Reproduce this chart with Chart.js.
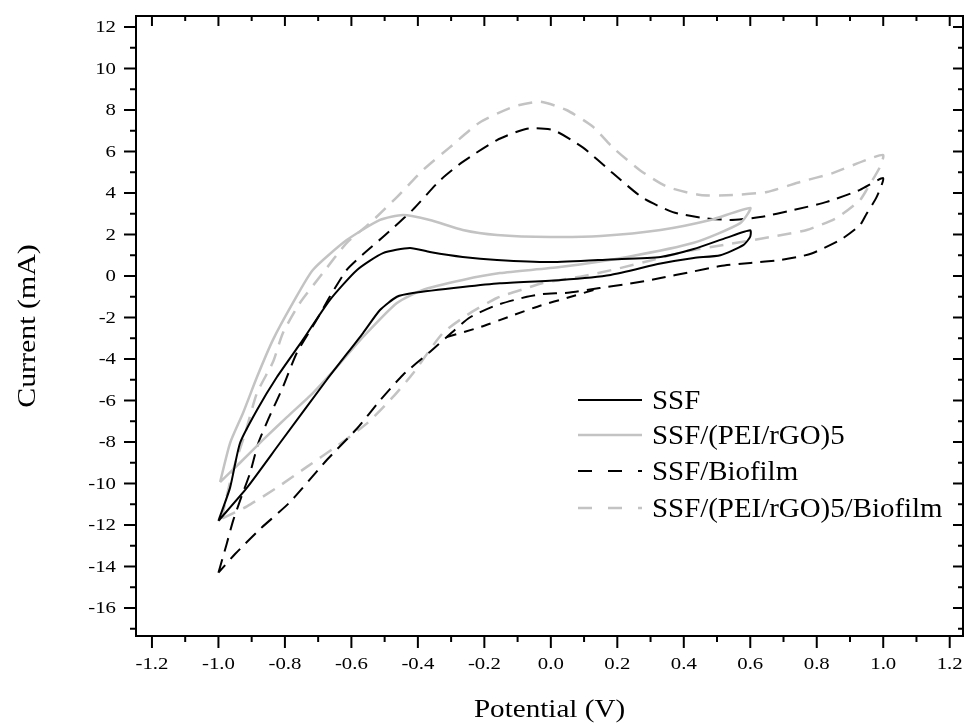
<!DOCTYPE html>
<html>
<head>
<meta charset="utf-8">
<title>Cyclic voltammograms</title>
<script src="https://cdn.jsdelivr.net/npm/chart.js@4.4.1/dist/chart.umd.min.js"></script>
<style>
    html, body { margin: 0; padding: 0; background: #fff; }
    #wrap { width: 965px; height: 724px; position: relative; }
</style>
</head>
<body>
<div id="wrap"><canvas id="cv-chart"></canvas></div>
<script>
// Axis ticks
var xTicks = [-1.2, -1.0, -0.8, -0.6, -0.4, -0.2, 0.0, 0.2, 0.4, 0.6, 0.8, 1.0, 1.2];
var yTicks = [-16, -14, -12, -10, -8, -6, -4, -2, 0, 2, 4, 6, 8, 10, 12];

var seriesNames = ['SSF', 'SSF/(PEI/rGO)5', 'SSF/Biofilm', 'SSF/(PEI/rGO)5/Biofilm'];

// SSF (closed loop, -1.0 .. 0.6 V)
var ssfPotential = [-1.0, -0.965, -0.935, -0.884, -0.824, -0.746, -0.665, -0.583, -0.505, -0.424, -0.364, -0.265, -0.162, 0.0, 0.18, 0.33, 0.43, 0.53, 0.6,
    0.6, 0.58, 0.51, 0.43, 0.33, 0.18, 0.03, -0.153, -0.265, -0.415, -0.463, -0.514, -0.565, -0.674, -0.815, -0.914, -1.0];
var ssfCurrent = [-11.8, -10.2, -8.05, -6.46, -4.87, -3.08, -1.16, 0.29, 1.1, 1.35, 1.16, 0.92, 0.77, 0.67, 0.8, 0.92, 1.3, 1.85, 2.2,
    1.9, 1.5, 1.0, 0.87, 0.6, 0.05, -0.19, -0.35, -0.53, -0.82, -1.0, -1.64, -2.75, -5.0, -8.05, -10.2, -11.8];

// SSF/(PEI/rGO)5
var rgoPotential = [-0.995, -0.965, -0.926, -0.884, -0.836, -0.776, -0.716, -0.614, -0.514, -0.445, -0.364, -0.265, -0.162, 0.0, 0.15, 0.33, 0.48, 0.6,
    0.57, 0.43, 0.23, 0.027, -0.153, -0.265, -0.385, -0.463, -0.565, -0.644, -0.716, -0.794, -0.866, -0.935, -0.995];
var rgoCurrent = [-9.93, -8.05, -6.6, -4.87, -3.08, -1.3, 0.29, 1.73, 2.7, 2.94, 2.7, 2.22, 1.98, 1.88, 1.93, 2.22, 2.7, 3.28,
    2.55, 1.6, 0.92, 0.43, 0.14, -0.19, -0.67, -1.3, -2.94, -4.39, -5.64, -6.8, -7.9, -9.0, -9.93];

// SSF/Biofilm (closed loop, -1.0 .. 1.0 V)
var bioPotential = [-1.0, -0.975, -0.956, -0.93, -0.905, -0.88, -0.85, -0.806, -0.764, -0.704, -0.665, -0.614, -0.565, -0.5, -0.415, -0.334, -0.265, -0.162, -0.072, 0.006,
    0.096, 0.186, 0.277, 0.367, 0.457, 0.54, 0.63, 0.73, 0.83, 0.93, 1.0,
    0.98, 0.95, 0.93, 0.87, 0.78, 0.69, 0.6, 0.51, 0.42, 0.33, 0.23, 0.147, 0.057, -0.024, -0.072, -0.162, -0.244, -0.313,
    -0.364, -0.445, -0.514, -0.583, -0.674, -0.785, -0.875, -0.95, -1.0];
var bioCurrent = [-14.3, -12.9, -11.8, -10.6, -9.5, -8.05, -6.9, -5.35, -3.7, -2.1, -1.0, 0.3, 1.05, 1.95, 3.2, 4.6, 5.5, 6.55, 7.1, 7.04,
    6.2, 4.96, 3.76, 3.08, 2.8, 2.7, 2.84, 3.18, 3.57, 4.15, 4.72,
    3.8, 3.0, 2.45, 1.73, 1.06, 0.77, 0.63, 0.48, 0.19, -0.1, -0.39, -0.58, -0.8, -0.87, -1.0, -1.4, -2.0, -2.94,
    -3.66, -4.77, -6.0, -7.35, -8.87, -10.9, -12.2, -13.4, -14.3];

// SSF/Biofilm, short extra trace under the cathodic branch
var bioExtraPotential = [-0.313, -0.21, -0.12, -0.03, 0.05, 0.14];
var bioExtraCurrent = [-2.94, -2.45, -1.93, -1.42, -1.05, -0.62];

// SSF/(PEI/rGO)5/Biofilm
var rgoBioPotential = [-0.99, -0.975, -0.955, -0.92, -0.884, -0.836, -0.806, -0.755, -0.686, -0.614, -0.544, -0.463, -0.385, -0.304, -0.214, -0.114, -0.033,
    0.047, 0.126, 0.186, 0.268, 0.35, 0.45, 0.547, 0.65, 0.75, 0.848, 0.95, 1.0,
    0.99, 0.95, 0.93, 0.86, 0.77, 0.68, 0.52, 0.41, 0.3, 0.2, 0.1, -0.024, -0.072, -0.162, -0.244, -0.325,
    -0.415, -0.475, -0.553, -0.644, -0.734, -0.824, -0.914, -0.99];
var rgoBioCurrent = [-11.7, -10.6, -9.3, -7.6, -5.64, -4.15, -2.75, -1.3, 0.14, 1.6, 2.55, 3.8, 5.1, 6.2, 7.4, 8.15, 8.4,
    8.0, 7.2, 6.2, 5.1, 4.3, 3.9, 3.9, 4.05, 4.53, 4.96, 5.6, 5.83,
    5.25, 4.15, 3.66, 2.8, 2.22, 1.93, 1.5, 1.2, 0.75, 0.35, 0.0, -0.34, -0.58, -1.06, -1.8, -2.75,
    -4.7, -5.83, -7.1, -8.2, -9.2, -10.2, -11.1, -11.7];

var FONT = "'Liberation Serif', 'Times New Roman', serif";
var GREY = '#c3c3c3';

function toPoints(xs, ys) {
    return xs.map(function(v, i) { return {x: v, y: ys[i]}; });
}

function lineSet(label, xs, ys, color, width, dash) {
    return {
        label: label,
        data: toPoints(xs, ys),
        showLine: true,
        borderColor: color,
        backgroundColor: color,
        borderWidth: width,
        borderDash: dash,
        pointRadius: 0,
        tension: 0.2,
        fill: false
    };
}

// The original's lettering is a little wider than the serif font, so stretch it
function wideText(ctx, text, x, y, sx, align, angle) {
    ctx.save();
    ctx.translate(x, y);
    if (angle) ctx.rotate(angle);
    ctx.scale(sx, 1);
    ctx.textAlign = align;
    ctx.fillText(text, 0, 0);
    ctx.restore();
}

// Frame with major/minor ticks on all four sides, plus tick labels and titles
var framePlugin = {
    id: 'frame',
    afterDatasetsDraw: function(chart) {
        var ctx = chart.ctx;
        var a = chart.chartArea;
        var xs = chart.scales.x;
        var ys = chart.scales.y;

        ctx.save();
        ctx.strokeStyle = '#000';
        ctx.lineWidth = 2;
        ctx.strokeRect(a.left, a.top, a.right - a.left, a.bottom - a.top);

        function seg(x1, y1, x2, y2) {
            ctx.beginPath();
            ctx.moveTo(x1, y1);
            ctx.lineTo(x2, y2);
            ctx.stroke();
        }

        ctx.fillStyle = '#000';
        ctx.textBaseline = 'middle';
        ctx.font = '16px ' + FONT;

        xTicks.forEach(function(v, i) {
            var p = xs.getPixelForValue(v);
            seg(p, a.bottom, p, a.bottom + 12);
            seg(p, a.top, p, a.top + 10);
            if (i < xTicks.length - 1) {
                var m = xs.getPixelForValue((v + xTicks[i + 1]) / 2);
                seg(m, a.bottom, m, a.bottom + 6);
                seg(m, a.top, m, a.top + 5);
            }
            wideText(ctx, v.toFixed(1), p, a.bottom + 29, 1.3, 'center');
        });

        yTicks.forEach(function(v) {
            var p = ys.getPixelForValue(v);
            seg(a.left - 12, p, a.left, p);
            seg(a.right - 10, p, a.right, p);
            var m = ys.getPixelForValue(v - 1);
            seg(a.left - 6, m, a.left, m);
            seg(a.right - 5, m, a.right, m);
            wideText(ctx, String(v), a.left - 20, p + 1, 1.3, 'right');
        });

        ctx.font = '26px ' + FONT;
        wideText(ctx, 'Potential (V)', (a.left + a.right) / 2, 710, 1.12, 'center');
        wideText(ctx, 'Current (mA)', 28, (a.top + a.bottom) / 2, 1.15, 'center', -Math.PI / 2);
        ctx.restore();
    }
};

// Legend drawn inside the plot area
var legendPlugin = {
    id: 'innerLegend',
    afterDraw: function(chart) {
        var ctx = chart.ctx;
        var rows = [400, 435, 471, 508];
        ctx.save();
        ctx.font = '27px ' + FONT;
        ctx.textBaseline = 'middle';
        ctx.fillStyle = '#000';
        seriesNames.forEach(function(name, i) {
            var ds = chart.data.datasets[i];
            ctx.strokeStyle = ds.borderColor;
            ctx.lineWidth = ds.borderWidth;
            ctx.setLineDash(ds.borderDash.length ? [14, 16] : []);
            ctx.beginPath();
            ctx.moveTo(578, rows[i]);
            ctx.lineTo(642, rows[i]);
            ctx.stroke();
            ctx.setLineDash([]);
            wideText(ctx, name, 652, rows[i] + 2, 1.07, 'left');
        });
        ctx.restore();
    }
};

var ctx = document.getElementById('cv-chart').getContext('2d');

new Chart(ctx, {
    type: 'scatter',
    data: {
        datasets: [
            lineSet(seriesNames[0], ssfPotential, ssfCurrent, '#000', 2, []),
            lineSet(seriesNames[1], rgoPotential, rgoCurrent, GREY, 2.5, []),
            lineSet(seriesNames[2], bioPotential, bioCurrent, '#000', 2, [14, 8]),
            lineSet(seriesNames[3], rgoBioPotential, rgoBioCurrent, GREY, 2.5, [14, 9]),
            lineSet('', bioExtraPotential, bioExtraCurrent, '#000', 2, [10, 8])
        ]
    },
    options: {
        responsive: true,
        maintainAspectRatio: false,
        animation: false,
        layout: {
            padding: {top: 16, right: 2, left: 0, bottom: 0}
        },
        plugins: {
            legend: {display: false},
            tooltip: {enabled: false}
        },
        scales: {
            x: {
                type: 'linear',
                min: -1.248,
                max: 1.24,
                afterBuildTicks: function(scale) {
                    scale.ticks = xTicks.map(function(v) { return {value: v}; });
                },
                afterFit: function(scale) {
                    scale.height = 88;
                    scale.paddingLeft = 0;
                    scale.paddingRight = 0;
                },
                grid: {display: false, drawTicks: false},
                border: {display: false},
                ticks: {display: false},
                title: {display: false}
            },
            y: {
                type: 'linear',
                min: -17.35,
                max: 12.53,
                afterBuildTicks: function(scale) {
                    scale.ticks = yTicks.map(function(v) { return {value: v}; });
                },
                afterFit: function(scale) {
                    scale.width = 136;
                    scale.paddingTop = 0;
                    scale.paddingBottom = 0;
                },
                grid: {display: false, drawTicks: false},
                border: {display: false},
                ticks: {display: false},
                title: {display: false}
            }
        }
    },
    plugins: [framePlugin, legendPlugin]
});
</script>
</body>
</html>
